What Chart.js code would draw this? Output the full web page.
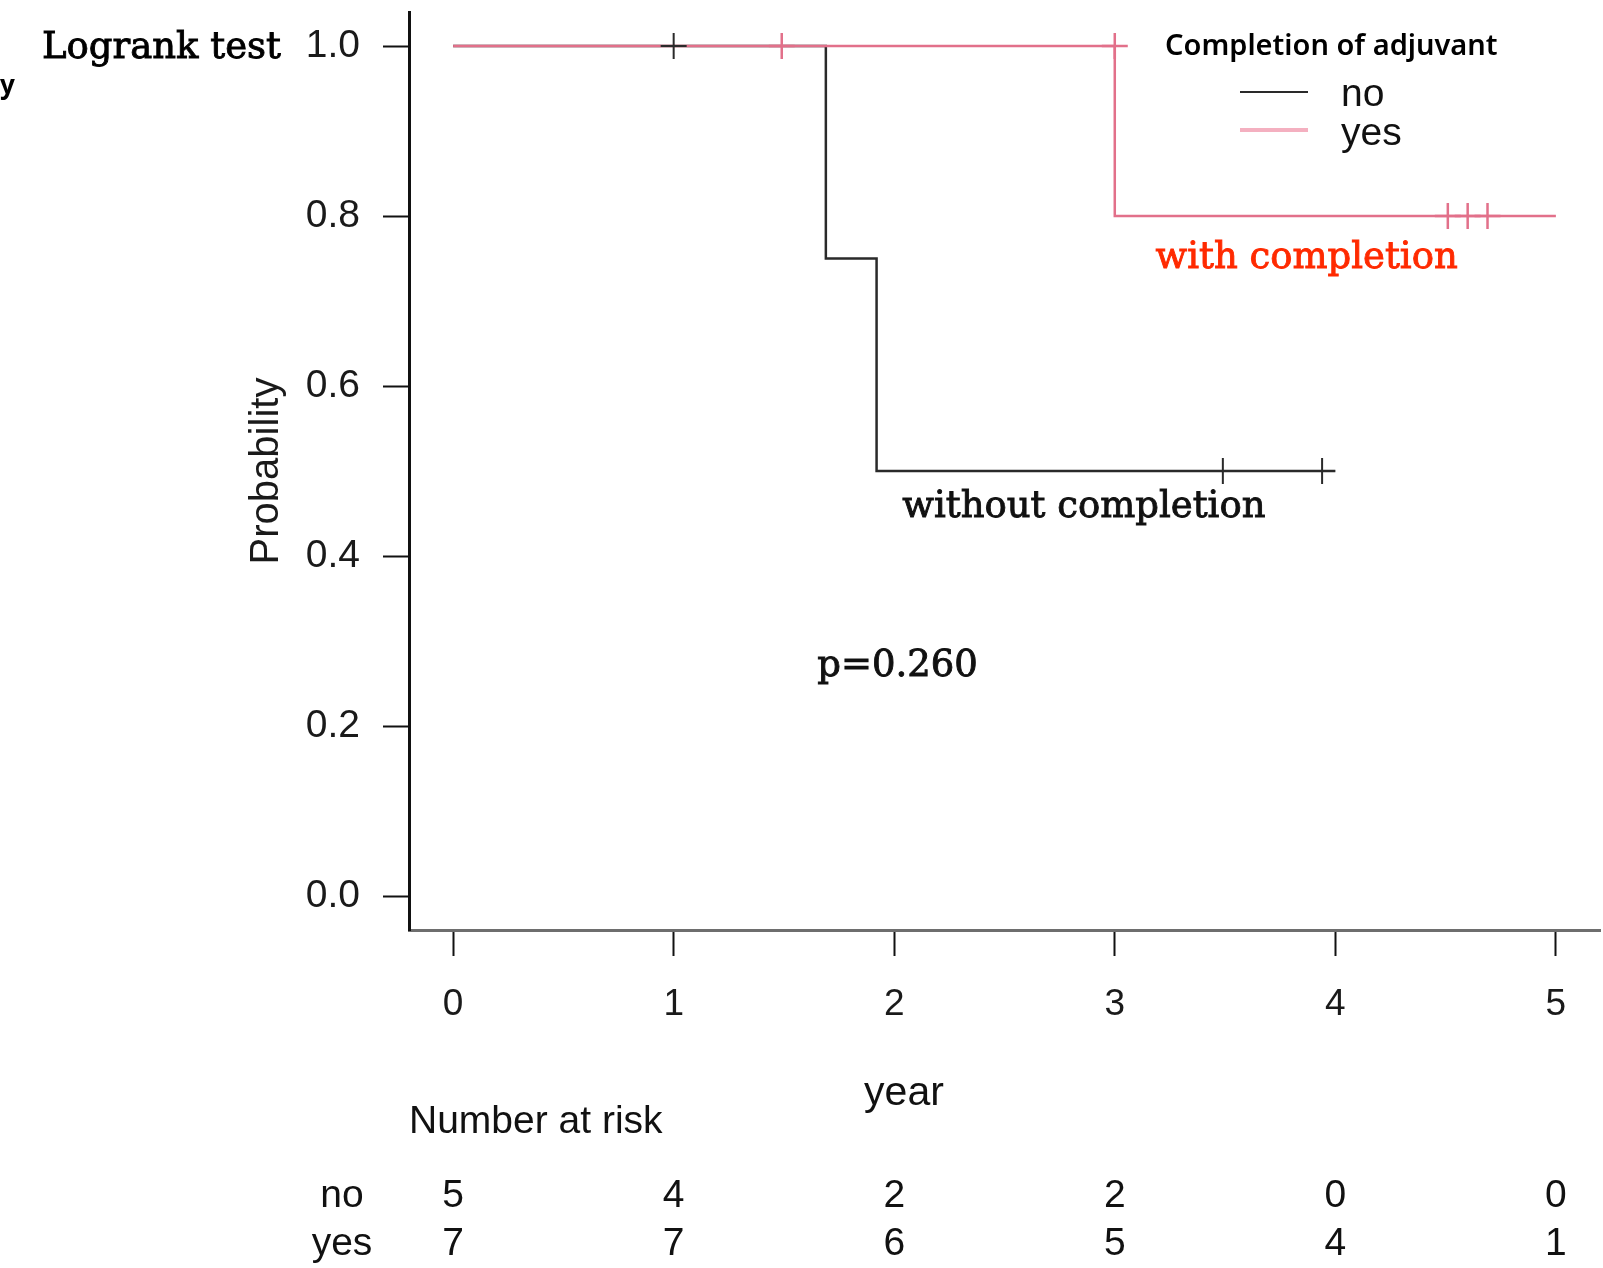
<!DOCTYPE html>
<html lang="en">
<head>
<meta charset="UTF-8">
<title>Kaplan-Meier: completion of adjuvant</title>
<script src="https://cdn.jsdelivr.net/npm/chart.js"></script>
<style>
  body { margin: 0; background: #fff; }
  #wrap { width: 1603px; height: 1268px; }
</style>
</head>
<body>
<div id="wrap"><canvas id="km" width="1603" height="1268"></canvas></div>

<script>
  // axis ticks
  const yearTicks = [0, 1, 2, 3, 4, 5];
  const probTicks = [0, 0.2, 0.4, 0.6, 0.8, 1.0];

  // group "no" (without completion): step points + censored cases
  const noTimes = [0, 1.69, 1.92, 4.0];
  const noSurv = [1.0, 0.75, 0.5, 0.5];
  const noCensorTimes = [1.0, 3.49, 3.94];
  const noCensorSurv = [1.0, 0.5, 0.5];

  // group "yes" (with completion)
  const yesTimes = [0, 3.0, 5.0];
  const yesSurv = [1.0, 0.8, 0.8];
  const yesCensorTimes = [1.49, 3.0, 4.51, 4.6, 4.69];
  const yesCensorSurv = [1.0, 1.0, 0.8, 0.8, 0.8];

  // number at risk at each year tick
  const riskNo = [5, 4, 2, 2, 0, 0];
  const riskYes = [7, 7, 6, 5, 4, 1];

  const BLACK = '#2a2a2a';
  const PINK = 'rgb(226,112,138)';
  const SANS = '"Liberation Sans", Arial, sans-serif';
  const SERIF = '"DejaVu Serif", serif';

  const toPoints = (xs, ys) => xs.map((x, i) => ({ x, y: ys[i] }));

  // slightly heavier serif text, like the original annotations
  function serifText(ctx, text, x, y) {
    ctx.fillText(text, x, y);
    ctx.strokeText(text, x, y);
  }

  // texts that are not part of the axes (legend, labels, risk table)
  const extras = {
    id: 'extras',
    afterDraw(chart) {
      const { ctx, scales } = chart;
      const sx = scales.x, sy = scales.y;
      ctx.save();
      ctx.textBaseline = 'middle';

      // header texts
      ctx.fillStyle = '#000';
      ctx.strokeStyle = '#000';
      ctx.lineWidth = 0.9;
      ctx.textAlign = 'left';
      ctx.font = '37px ' + SERIF;
      serifText(ctx, 'Logrank test', 42, 48);
      ctx.font = 'bold 26px "Noto Sans", sans-serif';
      ctx.fillText('y', 0, 87);

      // legend
      ctx.font = '600 29px "Noto Sans", sans-serif';
      ctx.fillText('Completion of adjuvant', 1165, 47);
      ctx.lineWidth = 2;
      ctx.strokeStyle = BLACK;
      ctx.beginPath(); ctx.moveTo(1240, 92); ctx.lineTo(1308, 92); ctx.stroke();
      ctx.lineWidth = 4;
      ctx.strokeStyle = 'rgb(244,176,192)';
      ctx.beginPath(); ctx.moveTo(1240, 130); ctx.lineTo(1308, 130); ctx.stroke();
      ctx.font = '39px ' + SANS;
      ctx.fillStyle = '#111';
      ctx.fillText('no', 1341, 95);
      ctx.fillText('yes', 1341, 134);

      // annotations in data coordinates
      ctx.textAlign = 'center';
      ctx.font = '37px ' + SERIF;
      ctx.lineWidth = 0.9;
      ctx.fillStyle = '#ff2a00';
      ctx.strokeStyle = '#ff2a00';
      serifText(ctx, 'with completion', sx.getPixelForValue(3.87), sy.getPixelForValue(0.75));
      ctx.fillStyle = '#111';
      ctx.strokeStyle = '#111';
      serifText(ctx, 'without completion', sx.getPixelForValue(2.86), sy.getPixelForValue(0.457));
      serifText(ctx, 'p=0.260', sx.getPixelForValue(2.015), sy.getPixelForValue(0.27));

      // x axis title
      ctx.font = '41px ' + SANS;
      ctx.fillText('year', 904, 1094);

      // number at risk table
      ctx.textAlign = 'left';
      ctx.font = '39px ' + SANS;
      ctx.fillText('Number at risk', 409, 1122);
      ctx.textAlign = 'center';
      ctx.fillText('no', 342, 1196);
      ctx.fillText('yes', 342, 1244);
      yearTicks.forEach((t, i) => {
        const px = sx.getPixelForValue(t);
        ctx.fillText(String(riskNo[i]), px, 1196);
        ctx.fillText(String(riskYes[i]), px, 1244);
      });
      ctx.restore();
    }
  };

  new Chart(document.getElementById('km'), {
    type: 'scatter',
    data: {
      datasets: [
        {
          label: 'no censored',
          data: toPoints(noCensorTimes, noCensorSurv),
          pointStyle: 'cross', pointRadius: 13,
          pointBorderWidth: 2, borderColor: BLACK,
          order: 0
        },
        {
          label: 'yes',
          data: toPoints(yesTimes, yesSurv),
          showLine: true, stepped: 'before',
          borderColor: PINK, borderWidth: 2.5, pointRadius: 0,
          order: 1
        },
        {
          label: 'yes censored',
          data: toPoints(yesCensorTimes, yesCensorSurv),
          pointStyle: 'cross', pointRadius: 13,
          pointBorderWidth: 2.5, borderColor: PINK,
          order: 1
        },
        {
          label: 'no',
          data: toPoints(noTimes, noSurv),
          showLine: true, stepped: 'before',
          borderColor: BLACK, borderWidth: 2.5, pointRadius: 0,
          order: 2
        }
      ]
    },
    options: {
      responsive: false,
      animation: false,
      devicePixelRatio: 1,
      layout: { autoPadding: false, padding: { top: 12, right: 3, left: 0, bottom: 0 } },
      plugins: { legend: { display: false }, tooltip: { enabled: false } },
      scales: {
        x: {
          type: 'linear', min: -0.2, max: 5.2,
          afterBuildTicks: axis => { axis.ticks = yearTicks.map(v => ({ value: v })); },
          afterFit: scale => {
            scale.height = 338;
            scale.paddingLeft = 0;
            scale.paddingRight = 0;
          },
          grid: { drawOnChartArea: false, tickLength: 26, tickColor: '#111', tickWidth: 2 },
          border: { display: true, color: '#6e6e6e', width: 3 },
          ticks: {
            padding: 27, color: '#1a1a1a',
            font: { family: SANS, size: 37 },
            callback: v => String(v)
          }
        },
        y: {
          type: 'linear', min: -0.04, max: 1.04,
          afterBuildTicks: axis => { axis.ticks = probTicks.map(v => ({ value: v })); },
          afterFit: scale => {
            scale.width = 409;
            scale.paddingTop = 0;
            scale.paddingBottom = 0;
          },
          grid: { drawOnChartArea: false, tickLength: 26, tickColor: '#111', tickWidth: 2 },
          border: { display: true, color: '#111', width: 3 },
          ticks: {
            padding: 23, color: '#1a1a1a',
            font: { family: SANS, size: 39 },
            callback: v => v.toFixed(1)
          },
          title: {
            display: true, text: 'Probability', color: '#1a1a1a',
            font: { family: SANS, size: 40 },
            padding: { top: 243, bottom: 0 }
          }
        }
      }
    },
    plugins: [extras]
  });
</script>
</body>
</html>
